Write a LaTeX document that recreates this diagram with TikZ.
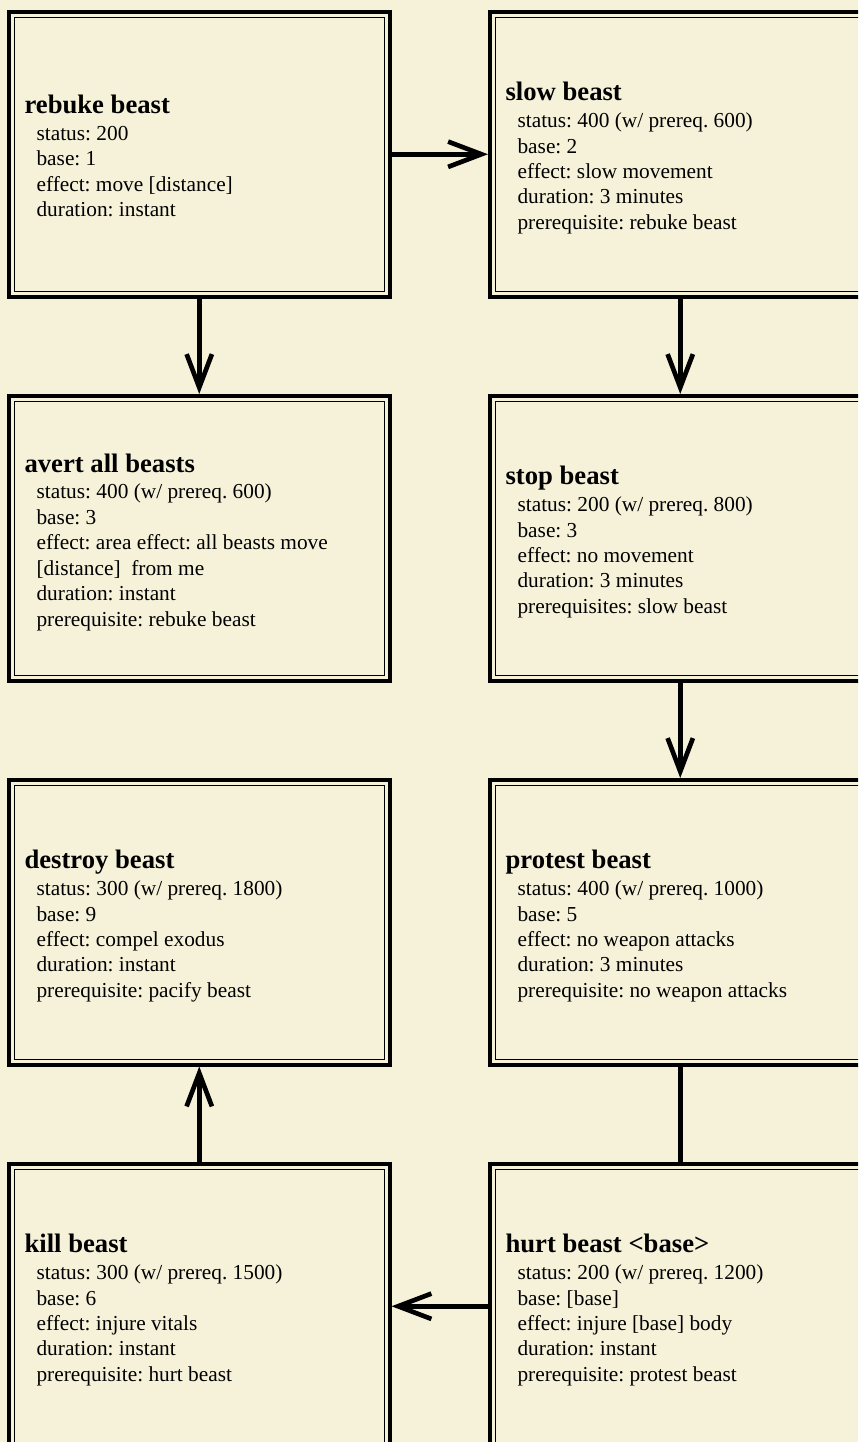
\documentclass[tikz,border=0pt]{standalone}
\usepackage{fontspec}
\setmainfont{Liberation Serif}
\usetikzlibrary{arrows.meta}
\definecolor{parchment}{RGB}{246,242,217}
\frenchspacing

% title in bold, the remaining lines indented below it
\newcommand{\beastcard}[2]{%
  \begin{tabular}{@{\hspace{9pt}}l@{}}
    \multicolumn{1}{@{}l@{}}{\fontsize{20}{24}\selectfont\bfseries #1}\\[0.9pt]
    #2
  \end{tabular}}

\begin{document}
\begin{tikzpicture}[x=0.75pt,y=-0.75pt,
  card/.style={rectangle, draw=black, line width=3pt, outer sep=1.5pt,
    minimum width=285.375pt, minimum height=213.375pt, inner sep=0pt},
  innerline/.style={draw=black, line width=0.75pt},
  cardtext/.style={anchor=west, inner sep=0pt,
    font=\fontsize{16}{19.1}\selectfont, text=black},
  conn/.style={line width=3.5pt, draw=black},
  arrow/.style={conn, -{Straight Barb[sharp, length=25pt, width=19pt]}}
]
\fill[parchment] (0,0) rectangle (858,1442);
\useasboundingbox (0,0) rectangle (858,1442);
\clip (0,0) rectangle (858,1442);

% card frames
\node[card] (rebuke)  at (199.25,154.25)  {};
\node[card] (slow)    at (680.25,154.25)  {};
\node[card] (avert)   at (199.25,538.25)  {};
\node[card] (stop)    at (680.25,538.25)  {};
\node[card] (destroy) at (199.25,922.25)  {};
\node[card] (protest) at (680.25,922.25)  {};
\node[card] (kill)    at (199.25,1306.25) {};
\node[card] (hurt)    at (680.25,1306.25) {};

% thin inner rule of each frame
\foreach \n in {rebuke,slow,avert,stop,destroy,protest,kill,hurt}
  \draw[innerline] ([shift={(7.5,7.5)}]\n.north west) rectangle ([shift={(-7.5,-7.5)}]\n.south east);

% card contents
\node[cardtext] (rebuke-t) at ([shift={(17.3,5.5)}]rebuke.west) {\beastcard{rebuke beast}{%
  status: 200\\
  base: 1\\
  effect: move [distance]\\
  duration: instant}};
\node[cardtext] (slow-t) at ([shift={(17.3,5.5)}]slow.west) {\beastcard{slow beast}{%
  status: 400 (w/ prereq. 600)\\
  base: 2\\
  effect: slow movement\\
  duration: 3 minutes\\
  prerequisite: rebuke beast}};
\node[cardtext] (avert-t) at ([shift={(17.3,5.5)}]avert.west) {\beastcard{avert all beasts}{%
  status: 400 (w/ prereq. 600)\\
  base: 3\\
  effect: area effect: all beasts move\\
  {[distance]}~ from me\\
  duration: instant\\
  prerequisite: rebuke beast}};
\node[cardtext] (stop-t) at ([shift={(17.3,5.5)}]stop.west) {\beastcard{stop beast}{%
  status: 200 (w/ prereq. 800)\\
  base: 3\\
  effect: no movement\\
  duration: 3 minutes\\
  prerequisites: slow beast}};
\node[cardtext] (destroy-t) at ([shift={(17.3,5.5)}]destroy.west) {\beastcard{destroy beast}{%
  status: 300 (w/ prereq. 1800)\\
  base: 9\\
  effect: compel exodus\\
  duration: instant\\
  prerequisite: pacify beast}};
\node[cardtext] (protest-t) at ([shift={(17.3,5.5)}]protest.west) {\beastcard{protest beast}{%
  status: 400 (w/ prereq. 1000)\\
  base: 5\\
  effect: no weapon attacks\\
  duration: 3 minutes\\
  prerequisite: no weapon attacks}};
\node[cardtext] (kill-t) at ([shift={(17.3,5.5)}]kill.west) {\beastcard{kill beast}{%
  status: 300 (w/ prereq. 1500)\\
  base: 6\\
  effect: injure vitals\\
  duration: instant\\
  prerequisite: hurt beast}};
\node[cardtext] (hurt-t) at ([shift={(17.3,5.5)}]hurt.west) {\beastcard{hurt beast <base>}{%
  status: 200 (w/ prereq. 1200)\\
  base: [base]\\
  effect: injure [base] body\\
  duration: instant\\
  prerequisite: protest beast}};

% connectors
\draw[arrow] (rebuke.east) -- (slow.west);
\draw[arrow] (rebuke.south) -- (avert.north);
\draw[arrow] (slow.south) -- (stop.north);
\draw[arrow] (stop.south) -- (protest.north);
\draw[conn]  (protest.south) -- (hurt.north);
\draw[arrow] (hurt.west) -- (kill.east);
\draw[arrow] (kill.north) -- (destroy.south);
\end{tikzpicture}
\end{document}
